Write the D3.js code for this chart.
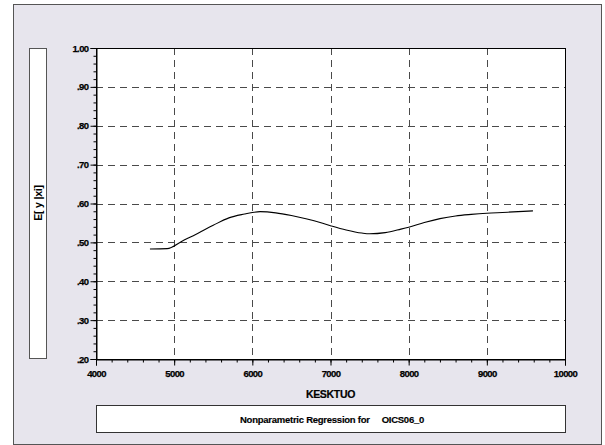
<!DOCTYPE html>
<html>
<head>
<meta charset="utf-8">
<script src="https://cdn.jsdelivr.net/npm/d3@7"></script>
<style>
  html, body { margin: 0; padding: 0; background: #ffffff; }
  svg { display: block; }
  text { font-family: "Liberation Sans", Arial, sans-serif; font-weight: bold; fill: #000; }
</style>
</head>
<body>
<svg id="chart" width="605" height="445"></svg>
<script>
// Fitted regression curve: income level vs. expected value
const xValues = [4690, 4910, 5100, 5300, 5500, 5700, 5900, 6000, 6100, 6300, 6500, 6700, 6900, 7000,
                 7200, 7400, 7500, 7700, 7900, 8000, 8200, 8400, 8600, 8800, 9000, 9200, 9400, 9590];
const yValues = [0.483, 0.484, 0.503, 0.523, 0.544, 0.563, 0.573, 0.577, 0.579, 0.576, 0.569, 0.560, 0.549, 0.543,
                 0.532, 0.524, 0.522, 0.525, 0.534, 0.539, 0.551, 0.561, 0.568, 0.572, 0.575, 0.577, 0.579, 0.581];

const xTicks = [4000, 5000, 6000, 7000, 8000, 9000, 10000];
const yTicks = [0.2, 0.3, 0.4, 0.5, 0.6, 0.7, 0.8, 0.9, 1.0];
const xLabel = "KESKTUO";
const yLabel = "E[ y |xi]";
const titleText = "Nonparametric Regression for     OICS06_0";

const svg = d3.select("#chart");

// outer panel
svg.append("rect")
  .attr("x", 13.5).attr("y", 4.5).attr("width", 588).attr("height", 440)
  .attr("fill", "#e7e5ed").attr("stroke", "#555").attr("stroke-width", 1);

const plotL = 96, plotR = 565, plotT = 48, plotB = 359;

const x = d3.scaleLinear().domain([4000, 10000]).range([plotL, plotR]);
const y = d3.scaleLinear().domain([0.2, 1.0]).range([plotB, plotT]);

// plot area
svg.append("rect")
  .attr("x", plotL).attr("y", plotT).attr("width", plotR - plotL).attr("height", plotB - plotT)
  .attr("fill", "#ffffff");

// dashed grid
const grid = svg.append("g").attr("stroke", "#4a4a4a").attr("stroke-width", 1).attr("stroke-dasharray", "7,5");
grid.selectAll("line.v").data(xTicks.slice(1, -1)).join("line").attr("class", "v")
  .attr("x1", d => Math.round(x(d)) + 0.5).attr("x2", d => Math.round(x(d)) + 0.5)
  .attr("y1", plotT).attr("y2", plotB);
grid.selectAll("line.h").data(yTicks.slice(1, -1)).join("line").attr("class", "h")
  .attr("y1", d => Math.round(y(d)) + 0.5).attr("y2", d => Math.round(y(d)) + 0.5)
  .attr("x1", plotL).attr("x2", plotR);

// plot frame
svg.append("rect")
  .attr("x", plotL + 0.5).attr("y", plotT + 0.5).attr("width", plotR - plotL).attr("height", plotB - plotT)
  .attr("fill", "none").attr("stroke", "#000").attr("stroke-width", 1);

// curve
const pts = xValues.map((v, i) => [v, yValues[i]]);
svg.append("path")
  .datum(pts)
  .attr("fill", "none").attr("stroke", "#000").attr("stroke-width", 1.1)
  .attr("d", d3.line().x(d => x(d[0])).y(d => y(d[1])).curve(d3.curveMonotoneX));

// axes: minor ticks first, then labelled major ticks
const fmtY = d => { const s = d3.format(".2f")(d); return s.startsWith("0") ? s.slice(1) : s; };

const yMinor = d3.range(0.2, 1.0001, 0.02);
svg.append("g").attr("transform", `translate(${plotL + 0.5},0)`)
  .call(d3.axisLeft(y).tickValues(yMinor).tickSize(3).tickFormat(""))
  .call(g => g.select(".domain").remove());
svg.append("g").attr("class", "yaxis").attr("transform", `translate(${plotL + 0.5},0)`)
  .call(d3.axisLeft(y).tickValues(yTicks).tickSize(6).tickPadding(2).tickFormat(fmtY))
  .call(g => g.select(".domain").attr("stroke", "#000"));

const xMinor = d3.range(4000, 10001, 200);
svg.append("g").attr("transform", `translate(0,${plotB + 0.5})`)
  .call(d3.axisBottom(x).tickValues(xMinor).tickSize(3).tickFormat(""))
  .call(g => g.select(".domain").remove());
svg.append("g").attr("class", "xaxis").attr("transform", `translate(0,${plotB + 0.5})`)
  .call(d3.axisBottom(x).tickValues(xTicks).tickSize(6).tickPadding(5).tickFormat(d3.format("d")))
  .call(g => g.select(".domain").attr("stroke", "#000"));

svg.selectAll(".tick line").attr("stroke", "#000");
svg.selectAll(".xaxis text, .yaxis text")
  .attr("font-size", 9.5).attr("letter-spacing", "-0.6px")
  .attr("stroke", "#000").attr("stroke-width", 0.25);

// x axis title
svg.append("text")
  .attr("x", (plotL + plotR) / 2).attr("y", 398)
  .attr("text-anchor", "middle").attr("font-size", 10.5).attr("letter-spacing", "-0.3px")
  .attr("stroke", "#000").attr("stroke-width", 0.2)
  .text(xLabel);

// y axis title box
svg.append("rect")
  .attr("x", 29.5).attr("y", 48.5).attr("width", 17).attr("height", 310)
  .attr("fill", "#fff").attr("stroke", "#555").attr("stroke-width", 1);
svg.append("text")
  .attr("transform", `translate(41.5,${(48 + 358) / 2}) rotate(-90)`)
  .attr("text-anchor", "middle").attr("font-size", 10.5).attr("letter-spacing", "-0.2px")
  .style("white-space", "pre")
  .text(yLabel);

// caption box
svg.append("rect")
  .attr("x", plotL + 0.5).attr("y", 405.5).attr("width", plotR - plotL).attr("height", 27)
  .attr("fill", "#fff").attr("stroke", "#333").attr("stroke-width", 1);
svg.append("text")
  .attr("x", 332).attr("y", 423)
  .attr("text-anchor", "middle").attr("font-size", 9.5).attr("letter-spacing", "-0.25px")
  .attr("stroke", "#000").attr("stroke-width", 0.15)
  .style("white-space", "pre")
  .text(titleText);
</script>
</body>
</html>
